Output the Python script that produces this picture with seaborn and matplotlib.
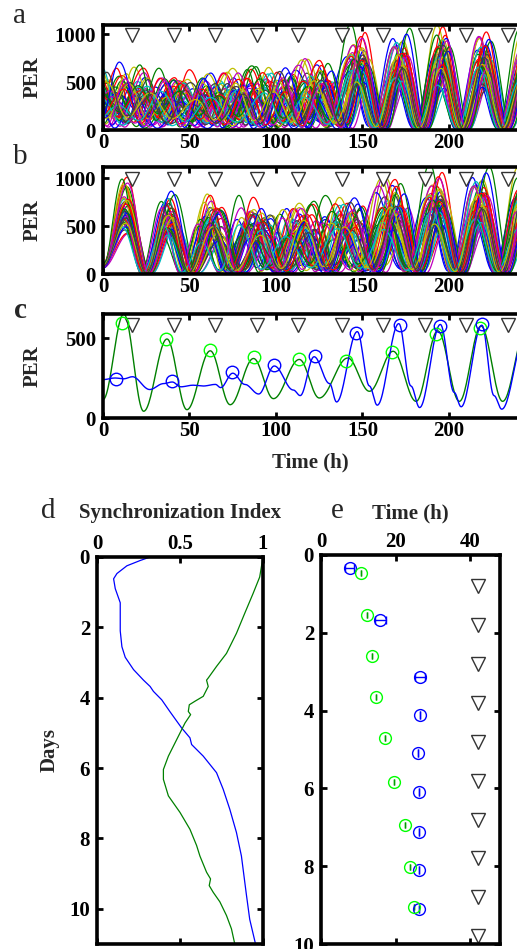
import numpy as np
import pandas as pd
import matplotlib
matplotlib.use("Agg")
import matplotlib.pyplot as plt
import seaborn as sns

sns.set_theme(style="white")
plt.rcParams["font.family"] = ["Liberation Serif", "DejaVu Serif"]
plt.rcParams["font.weight"] = "bold"
plt.rcParams["axes.labelweight"] = "bold"

# ---------------- data ----------------
MATLAB_COLORS = ["#0000FF", "#008000", "#FF0000", "#00BFBF", "#BF00BF", "#BFBF00", "#404040"]

# per-oscillator phase offsets, amplitude factors, trough factors (panels a, b)
TRACE_OFFSETS = [0.31, -1.18, 0.92, -0.44, 1.52, -0.86, 0.07, -1.63, 0.58, 1.14,
                 -0.21, -0.69, 1.33, 0.42, -1.41, 0.79, -0.12, 1.71, -0.98, 0.19,
                 -0.53, 1.02, -1.29, 0.49, -0.78, 1.43, 0.01, -0.33, 0.67, -1.52,
                 1.22, -0.61, 0.36, -1.09, 0.97, -0.27, 1.61, -0.88, 0.13, -1.46,
                 0.63, -0.06, 1.07, -0.57, 0.45, -1.24, 0.84, -0.16, 0.24]
TRACE_AMPS = [1.05, 0.82, 1.18, 0.93, 0.74, 1.22, 0.97, 0.86, 1.10, 0.78,
              1.01, 1.15, 0.89, 0.72, 1.07, 0.95, 1.20, 0.80, 0.99, 1.12,
              0.84, 1.03, 0.76, 1.17, 0.91, 0.87, 1.09, 0.98, 0.73, 1.24,
              0.94, 1.06, 0.81, 1.13, 0.90, 0.77, 1.19, 1.00, 0.85, 1.08,
              0.96, 0.79, 1.16, 0.92, 1.04, 0.75, 1.11, 0.88, 1.02]
TRACE_TROUGHS = [0.6, 1.4, 0.9, 1.7, 0.3, 1.1, 0.8, 1.5, 0.5, 1.2,
                 1.0, 0.4, 1.6, 0.7, 1.3, 0.2, 1.8, 0.9, 0.6, 1.1,
                 1.4, 0.5, 1.0, 0.8, 1.5, 0.3, 1.2, 0.7, 1.6, 0.4,
                 1.3, 0.9, 1.1, 0.6, 1.7, 0.2, 1.0, 1.4, 0.5, 0.8,
                 1.2, 1.5, 0.3, 1.9, 0.7, 1.1, 0.4, 1.3, 0.9]
CYCLE_WOBBLE = [1.00, 0.82, 1.18, 0.93, 1.10, 0.78, 1.22, 0.96, 1.05, 0.86, 1.14]
CYCLE_JITTER = [0.0, 0.8, -0.6, 0.3, -0.9, 0.5, -0.2, 0.95, -0.45, 0.65, -0.75, 0.15, -0.35]

# panel a: cycle peak centres (h), phase spread (h), jitter (h), mean peak, mean trough
A_PEAK_T = [-22, 2, 26, 50, 75, 99, 123, 148, 172, 196, 220, 244, 268]
A_SPREAD = [12, 12, 11.5, 10, 9, 7.5, 6, 3.5, 2.8, 2.5, 2.4, 2.4, 2.4]
A_JITTER = [6, 6, 6, 5.5, 5, 4.5, 3.5, 1.5, 1.0, 0.8, 0.8, 0.8, 0.8]
A_AMP = [500, 500, 440, 440, 470, 490, 530, 730, 730, 760, 740, 740, 740]
A_TROUGH = [100, 100, 90, 80, 75, 65, 55, 25, 12, 10, 10, 10, 10]

# panel b
B_START = 100
B_PEAK_T = [13, 38, 63, 88, 114, 140, 167, 193, 218, 243, 268]
B_SPREAD = [1.2, 2.2, 4.0, 5.0, 5.5, 6.5, 4.5, 3.0, 2.8, 2.8, 2.8]
B_JITTER = [0.3, 1.0, 2.5, 4.0, 4.5, 4.5, 3.0, 1.5, 1.0, 1.0, 1.0]
B_AMP = [700, 610, 560, 560, 540, 600, 720, 760, 770, 770, 770]
B_TROUGH = [8, 15, 30, 45, 60, 55, 35, 20, 15, 15, 15]

# light-pulse markers
TRI_TIMES = [17, 41, 65, 89, 113, 138, 162, 186, 210, 234]

# panel c: extremes of the two example cells and their detected peaks
C_GREEN_T = [0, 12, 23.5, 37, 48.5, 62, 73.5, 87, 98.5, 113.5, 125, 141.5, 154,
             167.7, 181, 193.5, 206, 218.5, 231, 245]
C_GREEN_Y = [115, 650, 42, 494, 52, 420, 83, 372, 121, 366, 125, 375, 167,
             417, 104, 545, 104, 575, 104, 570]
C_BLUE_T = [0, 7, 12, 17, 27, 35, 40, 45, 52, 58, 65, 68, 75, 82, 90, 99, 110, 114,
            122, 131, 135, 147, 154, 158.5, 171, 178, 183, 195, 203, 207, 219, 226,
            230.5, 245]
C_BLUE_Y = [240, 250, 245, 258, 178, 215, 225, 195, 205, 200, 210, 190, 280, 210,
            150, 325, 175, 140, 383, 215, 100, 540, 200, 80, 590, 200, 65, 585, 160,
            70, 580, 140, 55, 560]
C_GREEN_PK_T = [11.0, 36.3, 61.9, 87.3, 113.5, 140.4, 167.3, 192.3, 217.7]
C_GREEN_PK_Y = [594, 494, 427, 381, 371, 358, 410, 525, 562]
C_BLUE_PK_T = [7.7, 39.8, 74.8, 98.8, 122.5, 146.5, 171.5, 194.6, 219.2]
C_BLUE_PK_Y = [246, 229, 285, 333, 385, 531, 583, 577, 587]

# panel d: synchronization index vs days
D_DAYS_BLUE = [0, 0.1, 0.25, 0.47, 0.62, 0.9, 1.3, 2.1, 2.55, 2.85, 3.2, 3.5, 3.68,
               3.82, 4.06, 4.4, 4.86, 5.14, 5.33, 5.66, 6.13, 6.6, 7.17, 7.83, 8.5,
               9.6, 10.3, 11.0]
D_SI_BLUE = [0.32, 0.26, 0.18, 0.12, 0.10, 0.11, 0.14, 0.14, 0.15, 0.17, 0.22, 0.28,
             0.32, 0.34, 0.39, 0.44, 0.51, 0.56, 0.57, 0.64, 0.72, 0.76, 0.80, 0.84,
             0.87, 0.90, 0.92, 0.955]
D_DAYS_GREEN = [0, 0.57, 1.04, 1.6, 2.17, 2.74, 3.11, 3.44, 3.5, 3.68, 3.96, 4.1, 4.2,
                4.39, 4.48, 4.72, 5.19, 5.66, 6.04, 6.32, 6.79, 7.26, 7.74, 8.2, 8.5,
                8.96, 9.15, 9.34, 9.53, 9.8, 10.19, 10.57, 11.0]
D_SI_GREEN = [1.0, 0.98, 0.94, 0.89, 0.84, 0.78, 0.72, 0.67, 0.66, 0.67, 0.64, 0.59,
              0.556, 0.55, 0.564, 0.53, 0.48, 0.43, 0.40, 0.40, 0.43, 0.50, 0.56, 0.60,
              0.62, 0.66, 0.684, 0.676, 0.70, 0.74, 0.78, 0.81, 0.83]

# panel e: peak time within day (h) vs day
E_BLUE_DAY = [0.34, 1.67, 3.13, 4.11, 5.10, 6.10, 7.11, 8.10, 9.10]
E_BLUE_T = [7.7, 15.9, 26.6, 26.6, 26.0, 26.2, 26.2, 26.2, 26.2]
E_BLUE_ERR = [1.2, 1.5, 1.3, 0.05, 0.0, 0.0, 0.0, 0.0, 0.0]
E_GREEN_DAY = [0.47, 1.53, 2.59, 3.64, 4.71, 5.84, 6.94, 8.01, 9.06]
E_GREEN_T = [10.7, 12.3, 13.8, 14.8, 17.2, 19.5, 22.6, 23.9, 25.0]
E_GREEN_ERR = [0.0] * 9
E_TRI_T = 42
E_TRI_DAY = [0.8, 1.8, 2.8, 3.8, 4.8, 5.8, 6.8, 7.8, 8.8, 9.8]

# ---------------- helpers ----------------
GRID = np.arange(0, 250.5, 0.5)


def smooth_through(tk, yk, grid):
    tk = np.asarray(tk, float)
    yk = np.asarray(yk, float)
    idx = np.clip(np.searchsorted(tk, grid, side="right") - 1, 0, len(tk) - 2)
    s = np.clip((grid - tk[idx]) / (tk[idx + 1] - tk[idx]), 0, 1)
    return yk[idx] + (yk[idx + 1] - yk[idx]) * (1 - np.cos(np.pi * s)) / 2


def ensemble(peak_t, spread, jitter, amp, trough, start=None):
    rows = []
    nj, nw = len(CYCLE_JITTER), len(CYCLE_WOBBLE)
    for i, (off, af, tf) in enumerate(zip(TRACE_OFFSETS, TRACE_AMPS, TRACE_TROUGHS)):
        pk_t = [t + off * s + CYCLE_JITTER[(5 * i + 2 * k) % nj] * j
                for k, (t, s, j) in enumerate(zip(peak_t, spread, jitter))]
        pk_y = [a * af * CYCLE_WOBBLE[(3 * i + k) % nw] for k, a in enumerate(amp)]
        tk, yk = [], []
        if start is not None:
            tk.append(0.0)
            yk.append(start * (0.55 + 0.3 * tf))
        for k in range(len(pk_t)):
            tk.append(pk_t[k]); yk.append(pk_y[k])
            if k + 1 < len(pk_t):
                tk.append(pk_t[k] + 0.48 * (pk_t[k + 1] - pk_t[k]))
                yk.append(trough[k] * tf)
        y = smooth_through(tk, yk, GRID)
        rows.append(pd.DataFrame({"t": GRID, "PER": y, "trace": f"T{i:02d}"}))
    return pd.concat(rows, ignore_index=True)


fig = plt.figure(figsize=(5.17, 9.49), dpi=100)
W, H = 517.0, 949.0


def px_axes(left, top, right, bottom):
    return fig.add_axes([left / W, 1 - bottom / H, (right - left) / W, (bottom - top) / H])


TICK_FS = 15
LAB_FS = 15


def style(ax):
    for sp in ax.spines.values():
        sp.set_linewidth(2.6)
        sp.set_color("black")
    ax.tick_params(direction="in", length=4, width=2, labelsize=TICK_FS,
                   top=True, right=True, bottom=True, left=True, colors="black")
    ax.tick_params(axis="y", pad=5)
    ax.tick_params(axis="x", pad=2.5)
    for lab in ax.get_xticklabels() + ax.get_yticklabels():
        lab.set_fontweight("bold")


n_tr = len(TRACE_OFFSETS)
palette = [MATLAB_COLORS[i % len(MATLAB_COLORS)] for i in range(n_tr)]
hue_order = [f"T{i:02d}" for i in range(n_tr)]
AX_W = 432.5

# ---------------- panels a, b ----------------
specs = [
    ("a", (103, 25, 535.5, 130), ensemble(A_PEAK_T, A_SPREAD, A_JITTER, A_AMP, A_TROUGH), 1094, 16),
    ("b", (103, 167, 535.5, 274), ensemble(B_PEAK_T, B_SPREAD, B_JITTER, B_AMP, B_TROUGH, start=B_START), 1115, 157),
]
for lab, box, df, ytop, ylab_y in specs:
    ax = px_axes(*box)
    sns.lineplot(data=df, x="t", y="PER", hue="trace", hue_order=hue_order, palette=palette,
                 legend=False, estimator=None, sort=False, linewidth=0.9, ax=ax)
    ax.plot(TRI_TIMES, [990] * len(TRI_TIMES), "v", ms=10, mfc="white", mec="#333333", mew=1, zorder=5)
    ax.set_xlim(0, 250)
    ax.set_ylim(0, ytop)
    ax.set_xticks([0, 50, 100, 150, 200])
    ax.set_yticks([0, 500, 1000])
    ax.set_xlabel("")
    ax.set_ylabel("PER", fontsize=LAB_FS, fontweight="bold")
    ax.yaxis.set_label_coords((43 - 103) / AX_W, 0.5)
    style(ax)
    fig.text(20 / W, 1 - ylab_y / H, lab, fontsize=21, fontweight="normal", ha="center", va="center")

# ---------------- panel c ----------------
axC = px_axes(103, 314, 535.5, 418)
sns.lineplot(x=GRID, y=smooth_through(C_GREEN_T, C_GREEN_Y, GRID), color="#008000", linewidth=1.0, ax=axC)
sns.lineplot(x=GRID, y=smooth_through(C_BLUE_T, C_BLUE_Y, GRID), color="#0000FF", linewidth=1.0, ax=axC)
axC.plot(C_GREEN_PK_T, C_GREEN_PK_Y, "o", ms=9, mfc="none", mec="#00FF00", mew=1, zorder=6)
axC.plot(C_BLUE_PK_T, C_BLUE_PK_Y, "o", ms=9, mfc="none", mec="#0000FF", mew=1, zorder=6)
axC.plot(TRI_TIMES, [581] * len(TRI_TIMES), "v", ms=10, mfc="white", mec="#333333", mew=1, zorder=5)
axC.set_xlim(0, 250)
axC.set_ylim(0, 650)
axC.set_xticks([0, 50, 100, 150, 200])
axC.set_yticks([0, 500])
axC.set_ylabel("PER", fontsize=LAB_FS, fontweight="bold")
axC.yaxis.set_label_coords((43 - 103) / AX_W, 0.5)
axC.set_xlabel("Time (h)", fontsize=LAB_FS, fontweight="bold", labelpad=1)
axC.xaxis.set_label_coords((310 - 103) / AX_W, -0.33)
style(axC)
fig.text(20 / W, 1 - 311 / H, "c", fontsize=21, fontweight="bold", ha="center", va="center")

# ---------------- panel d ----------------
axD = px_axes(97, 557, 263, 944)
axD.plot(D_SI_BLUE, D_DAYS_BLUE, color="#0000FF", lw=0.9)
axD.plot(D_SI_GREEN, D_DAYS_GREEN, color="#008000", lw=0.9)
axD.set_xlim(0, 1)
axD.set_ylim(11, 0)
axD.set_xticks([0, 0.5, 1])
axD.set_xticklabels(["0", "0.5", "1"])
axD.set_yticks([0, 2, 4, 6, 8, 10])
axD.xaxis.tick_top()
style(axD)
axD.tick_params(labeltop=True, labelbottom=False)
axD.set_ylabel("Days", fontsize=LAB_FS, fontweight="bold")
axD.yaxis.set_label_coords((60 - 97) / 166.0, 0.5)
fig.text(180 / W, 1 - 513 / H, "Synchronization Index", fontsize=LAB_FS, fontweight="bold",
         ha="center", va="center")
fig.text(48 / W, 1 - 511 / H, "d", fontsize=21, fontweight="normal", ha="center", va="center")

# ---------------- panel e ----------------
axE = px_axes(321, 555, 500, 944)
axE.errorbar(E_BLUE_T, E_BLUE_DAY, xerr=E_BLUE_ERR, fmt="o", ms=8.5, mfc="none", mec="#0000FF",
             ecolor="#0000FF", elinewidth=1, capsize=3, capthick=1, mew=1)
axE.errorbar(E_GREEN_T, E_GREEN_DAY, xerr=E_GREEN_ERR, fmt="o", ms=8.5, mfc="none", mec="#00FF00",
             ecolor="#00A000", elinewidth=1, capsize=2.5, capthick=1, mew=1)
axE.plot([E_TRI_T] * len(E_TRI_DAY), E_TRI_DAY, "v", ms=10, mfc="white", mec="#333333", mew=1)
axE.set_xlim(0, 48)
axE.set_ylim(10, 0)
axE.set_xticks([0, 20, 40])
axE.set_yticks([0, 2, 4, 6, 8, 10])
axE.xaxis.tick_top()
style(axE)
axE.tick_params(labeltop=True, labelbottom=False)
fig.text(410 / W, 1 - 513 / H, "Time (h)", fontsize=LAB_FS, fontweight="bold", ha="center", va="center")
fig.text(337 / W, 1 - 511 / H, "e", fontsize=21, fontweight="normal", ha="center", va="center")

fig.savefig("out.png", dpi=100)
